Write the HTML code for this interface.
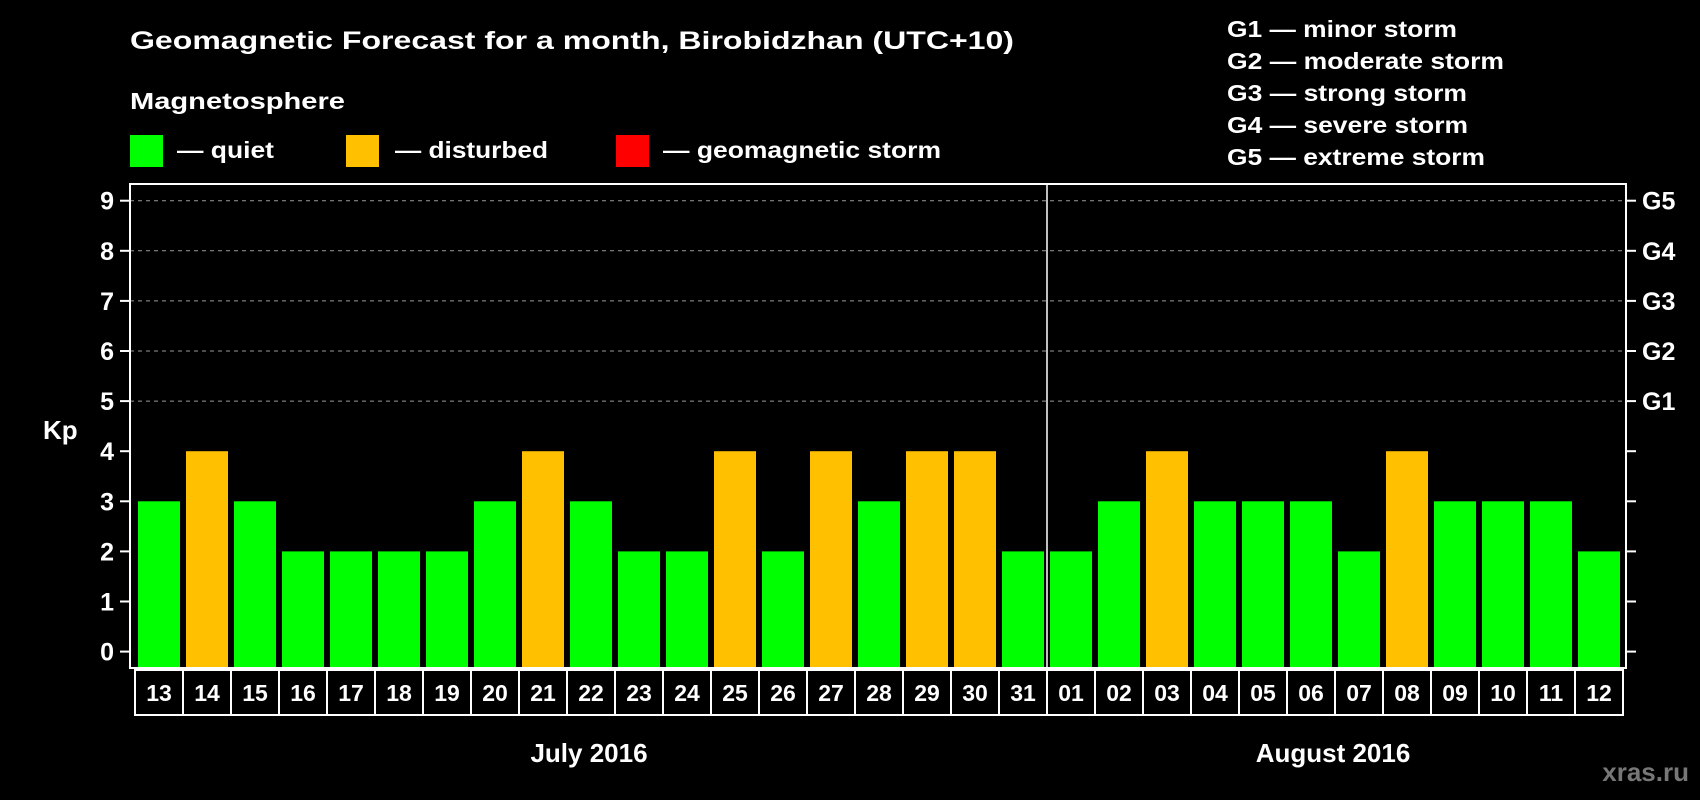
<!DOCTYPE html>
<html><head><meta charset="utf-8"><style>
html,body{margin:0;padding:0;background:#000;}
svg{display:block;font-family:"Liberation Sans",Arial,sans-serif;font-weight:bold;}
</style></head><body>
<svg id="chart" width="1700" height="800" viewBox="0 0 1700 800">
<rect x="0" y="0" width="1700" height="800" fill="#000"/>
<text x="130" y="49" fill="#fff" font-size="25" textLength="884" lengthAdjust="spacingAndGlyphs">Geomagnetic Forecast for a month, Birobidzhan (UTC+10)</text>
<text x="130" y="109" fill="#fff" font-size="23" textLength="215" lengthAdjust="spacingAndGlyphs">Magnetosphere</text>
<rect x="130" y="135" width="33" height="32" fill="#00ff00"/>
<text x="177" y="158" fill="#fff" font-size="23" textLength="97" lengthAdjust="spacingAndGlyphs">— quiet</text>
<rect x="346" y="135" width="33" height="32" fill="#ffc000"/>
<text x="395" y="158" fill="#fff" font-size="23" textLength="153" lengthAdjust="spacingAndGlyphs">— disturbed</text>
<rect x="616" y="135" width="33" height="32" fill="#ff0000"/>
<text x="663" y="158" fill="#fff" font-size="23" textLength="278" lengthAdjust="spacingAndGlyphs">— geomagnetic storm</text>
<g fill="#fff" font-size="23">
<text x="1227" y="37" textLength="230" lengthAdjust="spacingAndGlyphs">G1 — minor storm</text>
<text x="1227" y="69" textLength="277" lengthAdjust="spacingAndGlyphs">G2 — moderate storm</text>
<text x="1227" y="101" textLength="240" lengthAdjust="spacingAndGlyphs">G3 — strong storm</text>
<text x="1227" y="133" textLength="241" lengthAdjust="spacingAndGlyphs">G4 — severe storm</text>
<text x="1227" y="165" textLength="258" lengthAdjust="spacingAndGlyphs">G5 — extreme storm</text>
</g>
<text x="43" y="439" fill="#fff" font-size="26">Kp</text>
<text x="589" y="762" fill="#fff" font-size="26" text-anchor="middle">July 2016</text>
<text x="1333" y="762" fill="#fff" font-size="26" text-anchor="middle">August 2016</text>
<text x="1689" y="781" fill="#777" font-size="26" text-anchor="end">xras.ru</text>
<g id="plot"></g>
</svg>
<script>
const days = ["13","14","15","16","17","18","19","20","21","22","23","24","25","26","27","28","29","30","31","01","02","03","04","05","06","07","08","09","10","11","12"];
const kpValues = [3,4,3,2,2,2,2,3,4,3,2,2,4,2,4,3,4,4,2,2,3,4,3,3,3,2,4,3,3,3,2];
const yTicks = [0,1,2,3,4,5,6,7,8,9];
const gLabels = ["G1","G2","G3","G4","G5"];
const gLevels = [5,6,7,8,9];
const monthSplitIndex = 19;

const NS = "http://www.w3.org/2000/svg";
const plot = document.getElementById("plot");
const plotL = 130, plotR = 1626, plotT = 184, plotB = 668;
const bandX0 = 135, band = 48;
const y = v => 651.6 - 50.1 * v;
const xBand = i => bandX0 + band * i;
const color = v => v >= 5 ? "#ff0000" : (v >= 4 ? "#ffc000" : "#00ff00");
function mk(tag, attrs) {
  const e = document.createElementNS(NS, tag);
  for (const k in attrs) e.setAttribute(k, attrs[k]);
  plot.appendChild(e);
  return e;
}
// grid lines
gLevels.forEach((v, i) => {
  const g = mk("line", {x1: plotL, x2: plotR, y1: y(v), y2: y(v), stroke: "#999", "stroke-width": 1, "stroke-dasharray": "4,4"});
  
  
});
// bars
kpValues.forEach((v, i) => {
  const r = mk("rect", {x: xBand(i) + 3, y: y(v), width: 42, height: plotB - y(v), fill: color(v)});
  
  
});
// plot frame
const frame = mk("rect", {x: plotL, y: plotT, width: plotR - plotL, height: plotB - plotT, fill: "none", stroke: "#fff", "stroke-width": 2});


// month divider
const dv = mk("line", {x1: xBand(monthSplitIndex), x2: xBand(monthSplitIndex), y1: plotT, y2: plotB, stroke: "#fff", "stroke-width": 1.5});


// y ticks and labels
yTicks.forEach(v => {
  const t1 = mk("line", {x1: 120, x2: plotL, y1: y(v), y2: y(v), stroke: "#fff", "stroke-width": 2});
  
  
  const t2 = mk("line", {x1: plotR, x2: 1636, y1: y(v), y2: y(v), stroke: "#fff", "stroke-width": 2});
  
  
  const l = mk("text", {x: 114, y: y(v) + 9, fill: "#fff", "font-size": 25, "text-anchor": "end"});
  l.textContent = v;
  
  
});
gLabels.forEach((g, i) => {
  const l = mk("text", {x: 1642, y: y(gLevels[i]) + 9, fill: "#fff", "font-size": 25});
  l.textContent = g;
  
  
});
// day boxes
days.forEach((d, i) => {
  const b = mk("rect", {x: xBand(i), y: 670, width: band, height: 45, fill: "#000", stroke: "#fff", "stroke-width": 2});
  
  
  const t = mk("text", {x: xBand(i) + band / 2, y: 701, fill: "#fff", "font-size": 23, "text-anchor": "middle"});
  t.textContent = d;
  
  
});
</script>
</body></html>
